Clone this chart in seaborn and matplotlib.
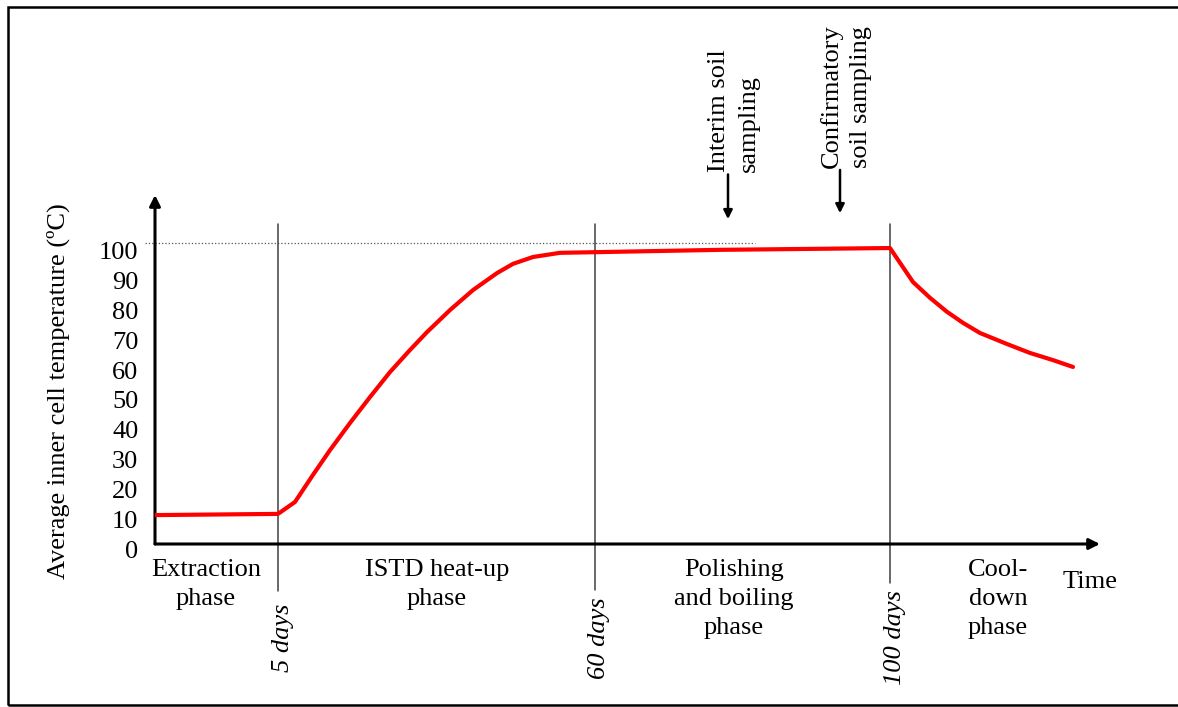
import numpy as np
import pandas as pd
import matplotlib
matplotlib.use("Agg")
import matplotlib.pyplot as plt
import matplotlib.transforms as mtransforms
import seaborn as sns

# schematic time axis (arbitrary units, not linear in days)
time_pos = [0.0, 12.3, 14.0, 15.8, 17.5, 19.5, 21.5, 23.5, 25.5, 27.2, 29.5, 31.8, 34.2, 35.8,
            37.8, 40.5, 43.8, 56.5, 73.5, 75.8, 77.5, 79.2, 80.8, 82.5, 85.2, 87.5, 89.8, 91.8]
temperature = [9.7, 10.1, 14.1, 23.2, 31.5, 40.6, 49.3, 57.7, 65.1, 71.1, 78.5, 85.2, 90.9, 94.0,
               96.3, 97.7, 97.9, 98.7, 99.3, 87.9, 82.6, 77.9, 74.2, 70.8, 67.1, 64.1, 61.7, 59.4]

boundary_pos = [12.3, 44.0, 73.5]
boundary_labels = ["5 days", "60 days", "100 days"]

phase_pos = [5.1, 28.2, 57.9, 84.3]
phase_labels = ["Extraction\nphase", "ISTD heat-up\nphase", "Polishing\nand boiling\nphase",
                "Cool-\ndown\nphase"]

sampling_pos = [57.3, 68.5]
sampling_labels = ["Interim soil\nsampling", "Confirmatory\nsoil sampling"]

y_ticks = list(range(0, 101, 10))

sns.set_style("white")
plt.rcParams["font.family"] = ["Liberation Serif", "DejaVu Serif"]
plt.rcParams["text.color"] = "black"
plt.rcParams["axes.labelcolor"] = "black"
plt.rcParams["ytick.color"] = "black"
FS = 19
LS = 1.42

fig = plt.figure(figsize=(11.78, 7.07), dpi=100)
ax = fig.add_axes([155 / 1178, (707 - 544) / 707, (1100 - 155) / 1178, (544 - 195) / 707])
ax.set_xlim(0, 94.5)
ax.set_ylim(0, 117.1)
for s in ax.spines.values():
    s.set_visible(False)

df = pd.DataFrame({"time": time_pos, "temp": temperature})
sns.lineplot(data=df, x="time", y="temp", ax=ax, color="#ff0000", linewidth=3,
             estimator=None, sort=False, zorder=5)

# axes with arrowheads
ax.annotate("", xy=(0, 117.1), xytext=(0, 0), annotation_clip=False,
            arrowprops=dict(arrowstyle="-|>", lw=2.2, color="black", mutation_scale=16,
                            shrinkA=0, shrinkB=0))
ax.annotate("", xy=(94.5, 0), xytext=(0, 0), annotation_clip=False,
            arrowprops=dict(arrowstyle="-|>", lw=2.2, color="black", mutation_scale=16,
                            shrinkA=0, shrinkB=0))

# dotted 100 reference
ax.plot([-1.0, 60.0], [101, 101], color="#555555", lw=0.9, ls=":", clip_on=False)

# phase boundaries
bottoms = [-15.8, -15.4, -13.1]
for xb, yb, lab in zip(boundary_pos, bottoms, boundary_labels):
    ax.plot([xb, xb], [107.4, yb], color="#404040", lw=1.1, clip_on=False)
    ax.text(xb + 0.45, -31.5, lab, rotation=90, style="italic", fontsize=FS,
            ha="center", va="center")

for xp, lab in zip(phase_pos, phase_labels):
    ax.text(xp, -5.0, lab, fontsize=FS, ha="center", va="top", linespacing=LS)

ax.text(93.5, -12.8, "Time", fontsize=FS, ha="center", va="center")

# sampling arrows
for xs, top, bot, lab, ty in zip(sampling_pos, [124.0, 125.5], [109.0, 111.0], sampling_labels,
                                 [124.8, 126.2]):
    ax.annotate("", xy=(xs, bot), xytext=(xs, top), annotation_clip=False,
                arrowprops=dict(arrowstyle="-|>", lw=1.8, color="black", mutation_scale=13,
                                shrinkA=0, shrinkB=0))
    ax.text(xs + 0.6, ty, lab, rotation=90, fontsize=FS, ha="center", va="bottom",
            multialignment="left", linespacing=LS)

ax.set_xticks([])
ax.set_yticks(y_ticks)
ax.set_yticklabels([str(v) for v in y_ticks], fontsize=FS)
ax.tick_params(axis="y", length=0, pad=12, labelcolor="black")
offset = mtransforms.ScaledTranslation(0, -0.05, fig.dpi_scale_trans)
for lbl in ax.get_yticklabels():
    lbl.set_transform(lbl.get_transform() + offset)

ax.set_ylabel("Average inner cell temperature (\u00baC)", fontsize=FS)
ax.yaxis.set_label_coords(-0.09, 0.438)
ax.set_xlabel("")

fig.patches.append(plt.Rectangle((8 / 1178, 2 / 707), 1.2, 698 / 707, fill=False, lw=1.8,
                                 edgecolor="black", transform=fig.transFigure, figure=fig))

fig.savefig("out.png", dpi=100)
